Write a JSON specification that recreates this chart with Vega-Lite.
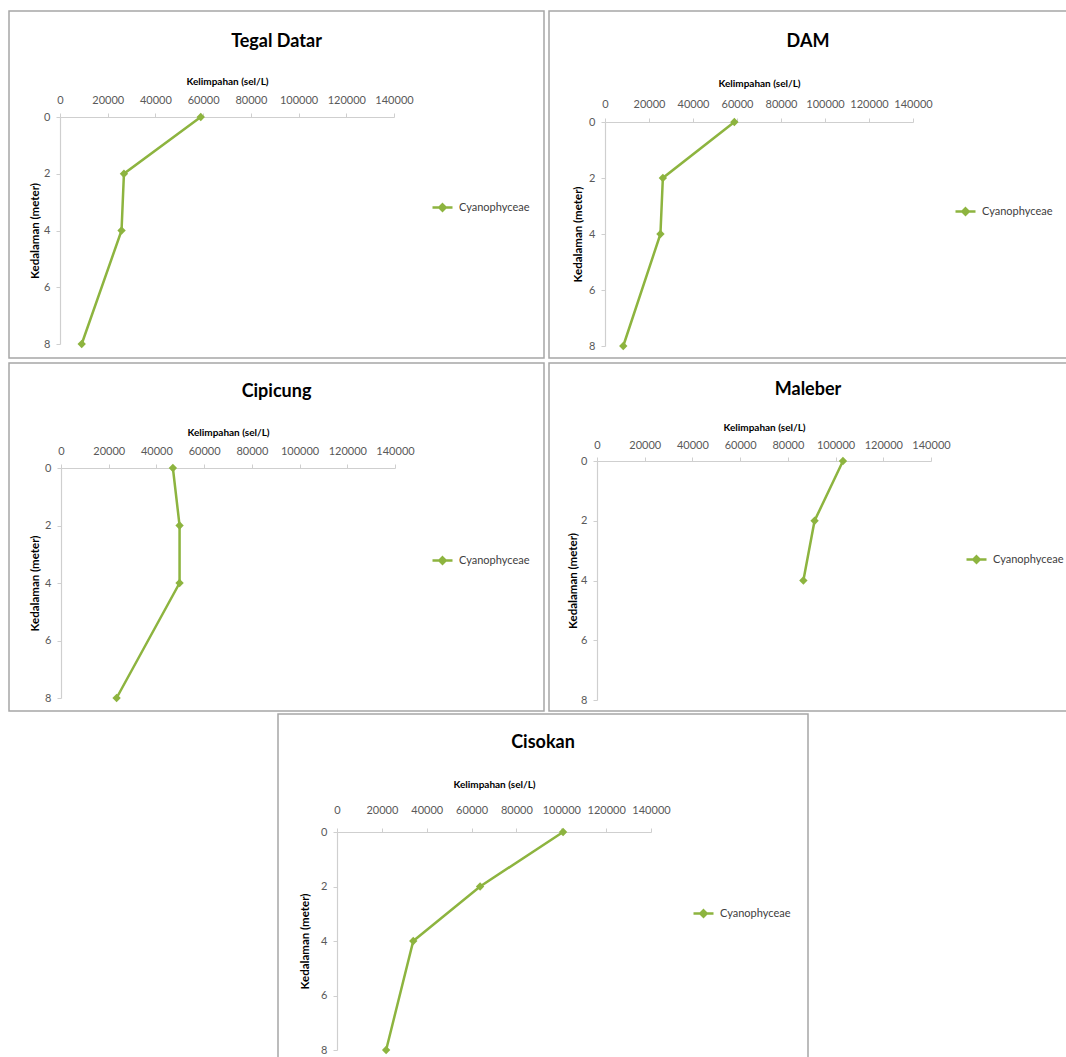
{
  "$schema": "https://vega.github.io/schema/vega-lite/v6.json",
  "background": "white",
  "padding": {"left": 8, "top": 10, "right": 0, "bottom": 0},
  "autosize": {"type": "pad"},
  "spacing": 1,
  "resolve": {"scale": {"color": "independent"}, "legend": {"color": "independent"}},
  "datasets": {
    "td": [
      {"kedalaman": 0, "kelimpahan": 59000, "kelas": "Cyanophyceae"},
      {"kedalaman": 2, "kelimpahan": 26800, "kelas": "Cyanophyceae"},
      {"kedalaman": 4, "kelimpahan": 25800, "kelas": "Cyanophyceae"},
      {"kedalaman": 8, "kelimpahan": 9100, "kelas": "Cyanophyceae"}
    ],
    "dam": [
      {"kedalaman": 0, "kelimpahan": 58800, "kelas": "Cyanophyceae"},
      {"kedalaman": 2, "kelimpahan": 26300, "kelas": "Cyanophyceae"},
      {"kedalaman": 4, "kelimpahan": 25200, "kelas": "Cyanophyceae"},
      {"kedalaman": 8, "kelimpahan": 8300, "kelas": "Cyanophyceae"}
    ],
    "cip": [
      {"kedalaman": 0, "kelimpahan": 46900, "kelas": "Cyanophyceae"},
      {"kedalaman": 2, "kelimpahan": 49700, "kelas": "Cyanophyceae"},
      {"kedalaman": 4, "kelimpahan": 49700, "kelas": "Cyanophyceae"},
      {"kedalaman": 8, "kelimpahan": 23300, "kelas": "Cyanophyceae"}
    ],
    "mal": [
      {"kedalaman": 0, "kelimpahan": 103100, "kelas": "Cyanophyceae"},
      {"kedalaman": 2, "kelimpahan": 91200, "kelas": "Cyanophyceae"},
      {"kedalaman": 4, "kelimpahan": 86500, "kelas": "Cyanophyceae"}
    ],
    "cis": [
      {"kedalaman": 0, "kelimpahan": 100800, "kelas": "Cyanophyceae"},
      {"kedalaman": 2, "kelimpahan": 63800, "kelas": "Cyanophyceae"},
      {"kedalaman": 4, "kelimpahan": 34000, "kelas": "Cyanophyceae"},
      {"kedalaman": 8, "kelimpahan": 21900, "kelas": "Cyanophyceae"}
    ]
  },
  "vconcat": [
    {
      "spacing": 3,
      "resolve": {"scale": {"color": "independent"}, "legend": {"color": "independent"}},
      "vconcat": [
        {
          "bounds": "flush",
          "spacing": 5,
          "resolve": {"scale": {"color": "independent"}, "legend": {"color": "independent"}},
          "hconcat": [
            {
              "width": 535, "height": 347,
              "data": {"name": "td"},
              "title": {"text": "Tegal Datar", "offset": -40},
              "mark": {"type": "line", "strokeWidth": 2.5, "point": {"shape": "diamond", "filled": true, "size": 70}},
              "encoding": {
                "x": {"field": "kelimpahan", "type": "quantitative", "scale": {"domain": [0, 140000], "range": [51, 385], "nice": false, "zero": false},
                      "axis": {"orient": "top", "offset": -106, "title": "Kelimpahan (sel/L)", "values": [0, 20000, 40000, 60000, 80000, 100000, 120000, 140000], "labelPadding": 8, "titlePadding": 7.5}},
                "y": {"field": "kedalaman", "type": "quantitative", "scale": {"domain": [0, 8], "range": [106, 333], "nice": false, "zero": false},
                      "axis": {"orient": "left", "offset": -51, "title": "Kedalaman (meter)", "values": [0, 2, 4, 6, 8], "labelPadding": 6, "titlePadding": 3.5}},
                "color": {"field": "kelas", "type": "nominal", "scale": {"range": ["#8DB43F"]},
                          "legend": {"orient": "none", "legendX": 422, "legendY": 185}},
                "order": {"field": "kedalaman", "type": "quantitative"}
              }
            },
            {
              "width": 518, "height": 347,
              "data": {"name": "dam"},
              "title": {"text": "DAM", "offset": -40},
              "mark": {"type": "line", "strokeWidth": 2.5, "point": {"shape": "diamond", "filled": true, "size": 70}},
              "encoding": {
                "x": {"field": "kelimpahan", "type": "quantitative", "scale": {"domain": [0, 140000], "range": [56, 364], "nice": false, "zero": false},
                      "axis": {"orient": "top", "offset": -111, "title": "Kelimpahan (sel/L)", "values": [0, 20000, 40000, 60000, 80000, 100000, 120000, 140000], "labelPadding": 9, "titlePadding": 9.5}},
                "y": {"field": "kedalaman", "type": "quantitative", "scale": {"domain": [0, 8], "range": [111, 335], "nice": false, "zero": false},
                      "axis": {"orient": "left", "offset": -56, "title": "Kedalaman (meter)", "values": [0, 2, 4, 6, 8], "labelPadding": 6, "titlePadding": 5.5}},
                "color": {"field": "kelas", "type": "nominal", "scale": {"range": ["#8DB43F"]},
                          "legend": {"orient": "none", "legendX": 405, "legendY": 189}},
                "order": {"field": "kedalaman", "type": "quantitative"}
              }
            }
          ]
        },
        {
          "bounds": "flush",
          "spacing": 5,
          "resolve": {"scale": {"color": "independent"}, "legend": {"color": "independent"}},
          "hconcat": [
            {
              "width": 535, "height": 348,
              "data": {"name": "cip"},
              "title": {"text": "Cipicung", "offset": -38},
              "mark": {"type": "line", "strokeWidth": 2.5, "point": {"shape": "diamond", "filled": true, "size": 70}},
              "encoding": {
                "x": {"field": "kelimpahan", "type": "quantitative", "scale": {"domain": [0, 140000], "range": [52, 386], "nice": false, "zero": false},
                      "axis": {"orient": "top", "offset": -105, "title": "Kelimpahan (sel/L)", "values": [0, 20000, 40000, 60000, 80000, 100000, 120000, 140000], "labelPadding": 8, "titlePadding": 7.5}},
                "y": {"field": "kedalaman", "type": "quantitative", "scale": {"domain": [0, 8], "range": [105, 335], "nice": false, "zero": false},
                      "axis": {"orient": "left", "offset": -52, "title": "Kedalaman (meter)", "values": [0, 2, 4, 6, 8], "labelPadding": 6, "titlePadding": 4.5}},
                "color": {"field": "kelas", "type": "nominal", "scale": {"range": ["#8DB43F"]},
                          "legend": {"orient": "none", "legendX": 422, "legendY": 186}},
                "order": {"field": "kedalaman", "type": "quantitative"}
              }
            },
            {
              "width": 518, "height": 348,
              "data": {"name": "mal"},
              "title": {"text": "Maleber", "offset": -36},
              "mark": {"type": "line", "strokeWidth": 2.5, "point": {"shape": "diamond", "filled": true, "size": 70}},
              "encoding": {
                "x": {"field": "kelimpahan", "type": "quantitative", "scale": {"domain": [0, 140000], "range": [48, 382], "nice": false, "zero": false},
                      "axis": {"orient": "top", "offset": -98, "title": "Kelimpahan (sel/L)", "values": [0, 20000, 40000, 60000, 80000, 100000, 120000, 140000], "labelPadding": 7, "titlePadding": 6.5}},
                "y": {"field": "kedalaman", "type": "quantitative", "scale": {"domain": [0, 8], "range": [98, 337], "nice": false, "zero": false},
                      "axis": {"orient": "left", "offset": -48, "title": "Kedalaman (meter)", "values": [0, 2, 4, 6, 8], "labelPadding": 6, "titlePadding": 2.5}},
                "color": {"field": "kelas", "type": "nominal", "scale": {"range": ["#8DB43F"]},
                          "legend": {"orient": "none", "legendX": 416, "legendY": 185}},
                "order": {"field": "kedalaman", "type": "quantitative"}
              }
            }
          ]
        }
      ]
    },
    {
      "bounds": "flush",
      "spacing": 0,
      "resolve": {"scale": {"color": "independent"}, "legend": {"color": "independent"}},
      "hconcat": [
        {
          "width": 269, "height": 344,
          "data": {"values": []},
          "mark": "point",
          "encoding": {},
          "view": {"stroke": null}
        },
        {
          "width": 530, "height": 344,
          "data": {"name": "cis"},
          "title": {"text": "Cisokan", "offset": -38},
          "mark": {"type": "line", "strokeWidth": 2.5, "point": {"shape": "diamond", "filled": true, "size": 70}},
          "encoding": {
            "x": {"field": "kelimpahan", "type": "quantitative", "scale": {"domain": [0, 140000], "range": [59, 373], "nice": false, "zero": false},
                  "axis": {"orient": "top", "offset": -118, "title": "Kelimpahan (sel/L)", "values": [0, 20000, 40000, 60000, 80000, 100000, 120000, 140000], "labelPadding": 13, "titlePadding": 14.5}},
            "y": {"field": "kedalaman", "type": "quantitative", "scale": {"domain": [0, 8], "range": [118, 336], "nice": false, "zero": false},
                  "axis": {"orient": "left", "offset": -59, "title": "Kedalaman (meter)", "values": [0, 2, 4, 6, 8], "labelPadding": 6, "titlePadding": 10.5}},
            "color": {"field": "kelas", "type": "nominal", "scale": {"range": ["#8DB43F"]},
                      "legend": {"orient": "none", "legendX": 414, "legendY": 188}},
            "order": {"field": "kedalaman", "type": "quantitative"}
          }
        }
      ]
    }
  ],
  "config": {
    "view": {"stroke": "#A6A6A6", "strokeWidth": 1.5},
    "title": {"font": "Lato", "fontSize": 18, "fontWeight": "bold", "color": "#000000", "anchor": "middle", "frame": "group"},
    "axis": {
      "grid": false, "format": "d", "labelOverlap": false, "labelFlush": false,
      "labelFont": "Lato", "labelFontSize": 11, "labelColor": "#595959",
      "titleFont": "Lato", "titleFontWeight": "bold", "titleColor": "#000000",
      "domainColor": "#CFCFCF", "domainWidth": 1.2, "tickColor": "#CFCFCF", "tickSize": 4
    },
    "axisX": {"titleFontSize": 10, "labelAngle": 0},
    "axisY": {"titleFontSize": 11.5, "labelAlign": "right"},
    "legend": {
      "title": null, "padding": 0,
      "labelFont": "Lato", "labelFontSize": 11, "labelColor": "#404040", "labelOffset": 5,
      "symbolType": "M-1,0H1M0,-0.32L0.32,0L0,0.32L-0.32,0Z",
      "symbolSize": 400, "symbolStrokeWidth": 2.5,
      "symbolStrokeColor": "#8DB43F", "symbolFillColor": "#8DB43F"
    }
  }
}
